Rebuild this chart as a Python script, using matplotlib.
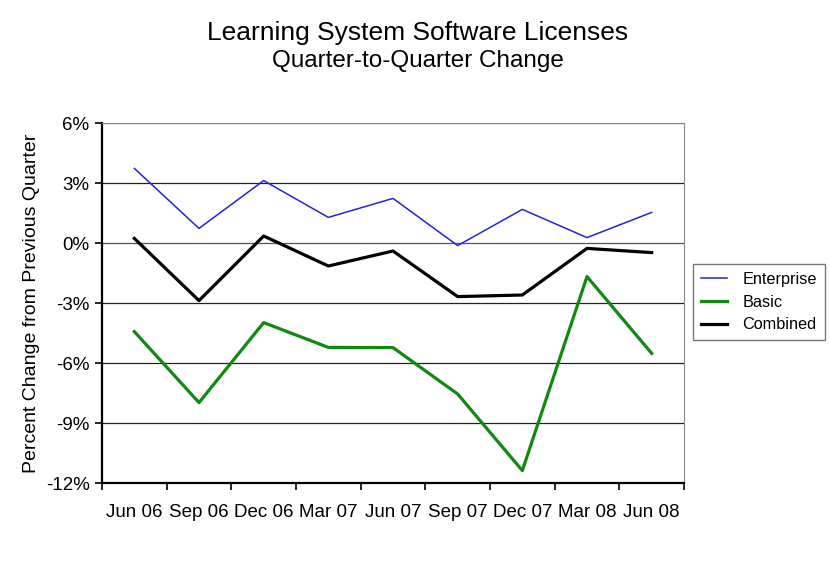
import numpy as np
import matplotlib
matplotlib.use("Agg")
import matplotlib.pyplot as plt

plt.rcParams['font.family'] = ['Liberation Sans', 'DejaVu Sans']

quarters = ['Jun 06', 'Sep 06', 'Dec 06', 'Mar 07', 'Jun 07',
            'Sep 07', 'Dec 07', 'Mar 08', 'Jun 08']
enterprise = [3.73, 0.73, 3.12, 1.28, 2.23, -0.13, 1.68, 0.27, 1.53]
basic = [-4.43, -7.98, -3.98, -5.22, -5.23, -7.55, -11.38, -1.68, -5.52]
combined = [0.23, -2.88, 0.35, -1.15, -0.4, -2.68, -2.6, -0.27, -0.48]

fig = plt.figure(figsize=(8.3, 5.65), dpi=100)
ax = fig.add_axes([102 / 830, 1 - 483 / 565, 582 / 830, 360 / 565])

x = np.arange(len(quarters))
ax.plot(x, enterprise, color='#2222dd', lw=1.1, label='Enterprise')
ax.plot(x, basic, color='#118811', lw=2.3, label='Basic')
ax.plot(x, combined, color='black', lw=2.3, label='Combined')

ax.set_xlim(-0.5, len(quarters) - 0.5)
ax.set_ylim(-12, 6)
yt = np.arange(-12, 7, 3)
ax.set_yticks(yt)
ax.set_yticklabels(['%d%%' % v for v in yt], fontsize=13.5)
for v in yt[1:]:
    ax.axhline(v, color='#555555' if v in (0, 6) else '#222222', lw=0.9, zorder=0)

ax.set_xticks(x)
ax.set_xticklabels(quarters, fontsize=13.5)
ax.set_xticks(np.arange(-0.5, len(quarters)), minor=True)
ax.tick_params(axis='x', which='major', length=0, pad=15)
ax.tick_params(axis='x', which='minor', length=5, width=1.2, direction='out')
ax.tick_params(axis='y', length=5, width=1.2, direction='out', pad=4)

ax.spines['left'].set_linewidth(1.6)
ax.spines['bottom'].set_linewidth(1.6)
ax.spines['right'].set_color('#888888')
ax.spines['top'].set_color('#888888')

ax.set_ylabel('Percent Change from Previous Quarter', fontsize=14)
ax.yaxis.set_label_coords(-0.106, 0.5)

fig.text(0.503, 0.942, 'Learning System Software Licenses', ha='center',
         va='center', fontsize=19)
fig.text(0.503, 0.892, 'Quarter-to-Quarter Change', ha='center',
         va='center', fontsize=17.5)

leg = ax.legend(loc='center left', bbox_to_anchor=(693 / 830, 1 - 302 / 565),
                bbox_transform=fig.transFigure, fontsize=11.7, frameon=True,
                fancybox=False, edgecolor='#555555', handlelength=1.6,
                borderpad=0.5, labelspacing=0.48, handletextpad=0.95,
                borderaxespad=0)
leg.get_frame().set_linewidth(1.0)

fig.savefig('out.png', dpi=100)
